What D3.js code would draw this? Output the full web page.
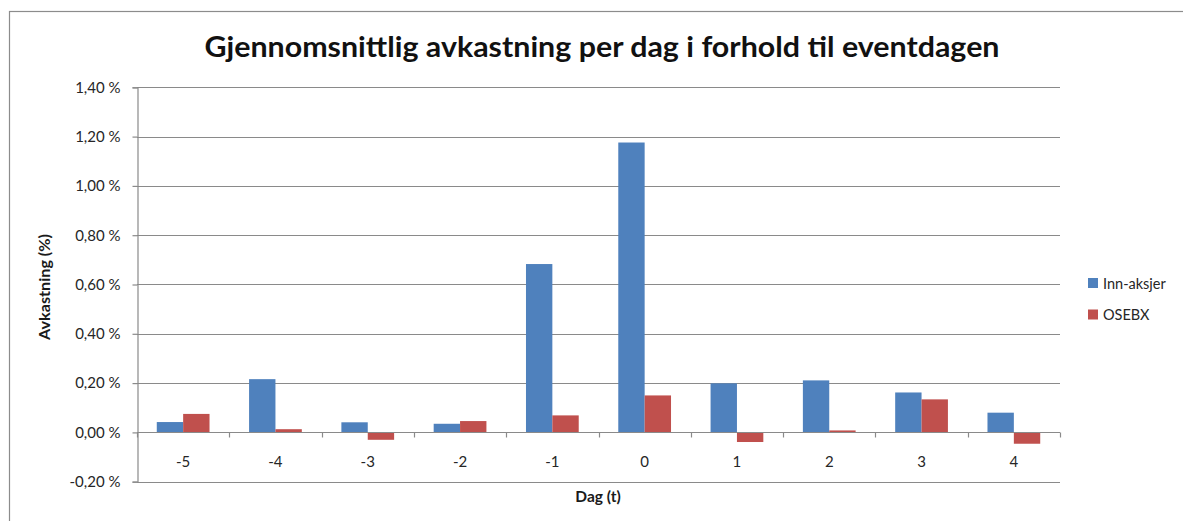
<!DOCTYPE html>
<html>
<head>
<meta charset="utf-8">
<script src="https://cdn.jsdelivr.net/npm/d3@7"></script>
<style>
  html, body { margin: 0; padding: 0; background: #fff; }
  svg { display: block; }
  text { font-family: Lato, "Open Sans", sans-serif; }
</style>
</head>
<body>
<svg id="chart" width="1183" height="521"></svg>
<script>
// Average return per day relative to the event day (in percent)
const days = ["-5", "-4", "-3", "-2", "-1", "0", "1", "2", "3", "4"];
const seriesNames = ["Inn-aksjer", "OSEBX"];
const innAksjer = [0.042, 0.216, 0.041, 0.035, 0.683, 1.176, 0.199, 0.211, 0.162, 0.080];
const osebx = [0.075, 0.013, -0.030, 0.046, 0.069, 0.150, -0.039, 0.008, 0.134, -0.046];
const yTicks = [-0.2, 0, 0.2, 0.4, 0.6, 0.8, 1.0, 1.2, 1.4];
const colors = ["#4F81BD", "#C0504D"];

const titleText = "Gjennomsnittlig avkastning per dag i forhold til eventdagen";
const yTitle = "Avkastning (%)";
const xTitle = "Dag (t)";

const svg = d3.select("#chart");
const plot = { left: 137, right: 1060, top: 87.3, bottom: 481.7 };

// Outer chart frame
svg.append("rect")
  .attr("x", 9.5).attr("y", 11.5)
  .attr("width", 1200).attr("height", 600)
  .attr("fill", "#fff").attr("stroke", "#8c8c8c").attr("stroke-width", 1.2);

const y = d3.scaleLinear().domain([-0.2, 1.4]).range([plot.bottom, plot.top]);
const x0 = d3.scaleBand().domain(days).range([plot.left, plot.right]).paddingInner(0).paddingOuter(0);
const x1 = d3.scaleBand().domain(seriesNames).range([0, x0.bandwidth()]).paddingInner(0).paddingOuter(0.75);

// Percent labels with decimal comma and a plain hyphen for negatives
const fmt = v => d3.format(".2f")(v).replace(".", ",").replace("\u2212", "-") + " %";

// Horizontal gridlines
svg.append("g").selectAll("line").data(yTicks).join("line")
  .attr("x1", plot.left).attr("x2", plot.right)
  .attr("y1", d => Math.round(y(d)) + 0.5).attr("y2", d => Math.round(y(d)) + 0.5)
  .attr("stroke", "#8a8a8a").attr("stroke-width", 1.2);

// Y axis
const yAxis = d3.axisLeft(y).tickValues(yTicks).tickFormat(fmt).tickSize(5).tickPadding(12);
const gy = svg.append("g").attr("transform", `translate(${plot.left + 0.5},0)`).call(yAxis);
gy.select(".domain").attr("stroke", "#8a8a8a").attr("stroke-width", 1.2);
gy.selectAll(".tick line").attr("stroke", "#8a8a8a").attr("stroke-width", 1.2);
gy.selectAll(".tick text").attr("font-size", 15).attr("fill", "#262626")
  .attr("font-family", "Lato, 'Open Sans', sans-serif");

// Bars
const data = days.map((d, i) => ({ day: d, values: [innAksjer[i], osebx[i]] }));
const groups = svg.append("g").selectAll("g").data(data).join("g")
  .attr("transform", d => `translate(${x0(d.day)},0)`);
groups.selectAll("rect").data(d => d.values.map((v, k) => ({ name: seriesNames[k], v, k })))
  .join("rect")
  .attr("x", d => x1(d.name))
  .attr("width", x1.bandwidth())
  .attr("y", d => y(Math.max(0, d.v)))
  .attr("height", d => Math.abs(y(d.v) - y(0)))
  .attr("fill", d => colors[d.k]);

// Category axis along zero line
const zeroY = Math.round(y(0)) + 0.5;
svg.append("line").attr("x1", plot.left).attr("x2", plot.right)
  .attr("y1", zeroY).attr("y2", zeroY).attr("stroke", "#8a8a8a").attr("stroke-width", 1.2);
const boundaries = days.map(d => x0(d)).concat([plot.right]);
svg.append("g").selectAll("line").data(boundaries).join("line")
  .attr("x1", d => Math.round(d) + 0.5).attr("x2", d => Math.round(d) + 0.5)
  .attr("y1", zeroY).attr("y2", zeroY + 5)
  .attr("stroke", "#8a8a8a").attr("stroke-width", 1.2);
svg.append("g").selectAll("text").data(days).join("text")
  .attr("x", d => x0(d) + x0.bandwidth() / 2)
  .attr("y", 467)
  .attr("text-anchor", "middle")
  .attr("font-size", 15).attr("fill", "#262626")
  .text(d => d);

// Title
svg.append("text")
  .attr("x", 602).attr("y", 57)
  .attr("text-anchor", "middle")
  .attr("font-size", 28).attr("font-weight", "bold").attr("fill", "#111")
  .attr("textLength", 795).attr("lengthAdjust", "spacingAndGlyphs")
  .text(titleText);

// Axis titles
svg.append("text")
  .attr("transform", "translate(50,287) rotate(-90)")
  .attr("text-anchor", "middle")
  .attr("font-size", 15).attr("font-weight", "bold").attr("fill", "#1a1a1a")
  .attr("textLength", 106).attr("lengthAdjust", "spacingAndGlyphs")
  .text(yTitle);
svg.append("text")
  .attr("x", 598).attr("y", 502)
  .attr("text-anchor", "middle")
  .attr("font-size", 15.5).attr("font-weight", "bold").attr("fill", "#1a1a1a")
  .text(xTitle);

// Legend
const legend = svg.append("g").selectAll("g").data(seriesNames).join("g")
  .attr("transform", (d, i) => `translate(1088,${283 + i * 31.5})`);
legend.append("rect").attr("x", 0).attr("y", -5).attr("width", 10).attr("height", 10)
  .attr("fill", (d, i) => colors[i]);
legend.append("text").attr("x", 15).attr("y", 5.5)
  .attr("font-size", 14.5).attr("fill", "#262626").text(d => d);
</script>
</body>
</html>
